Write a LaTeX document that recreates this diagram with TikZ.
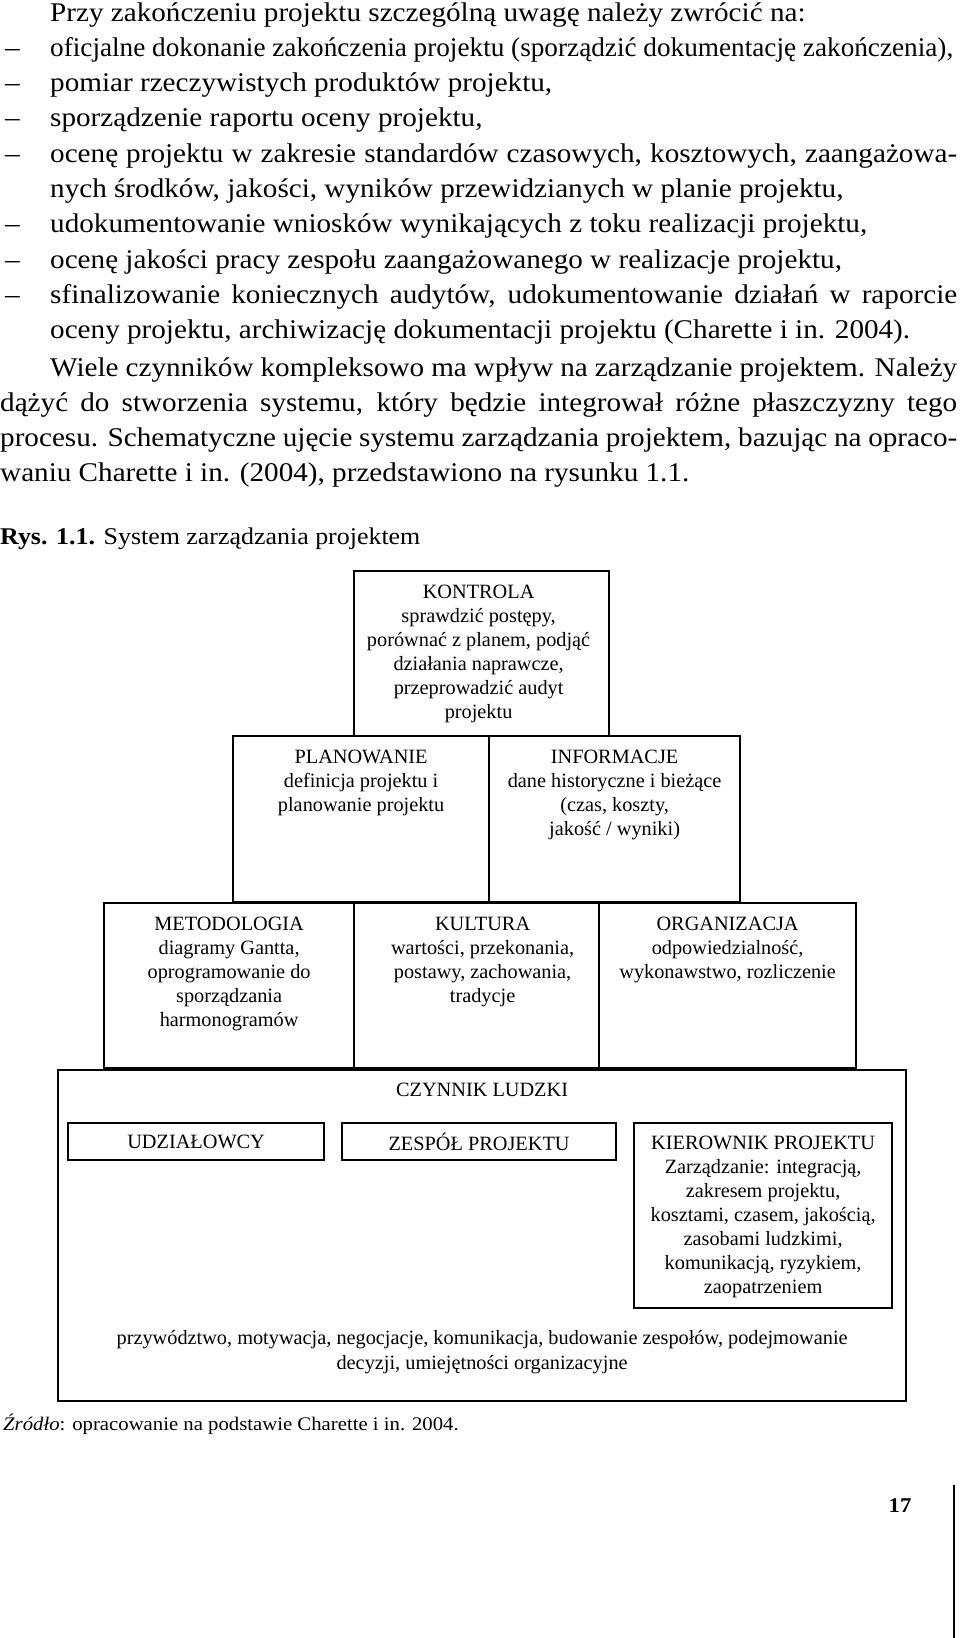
\documentclass[tikz,border=0pt]{standalone}
\usepackage{fontspec}
\setmainfont{Liberation Serif}
\newfontfamily\bookfont{Liberation Serif}[FakeStretch=1.08]
\usetikzlibrary{positioning}

\begin{document}
\begin{tikzpicture}[x=1pt,y=-1pt]
		\tikzstyle{textline} = [inner sep=0pt,anchor=base west,font=\bookfont\fontsize{27}{35}\selectfont]
		\tikzstyle{box} = [draw,line width=2.2pt,inner sep=0pt,anchor=north west]
		\tikzstyle{boxtext} = [inner sep=0pt,align=center,font=\fontsize{20.3}{24}\selectfont]
		
		\useasboundingbox (0,0) rectangle (960,1638);
		
		% Text above the figure
		\node [textline] (intro) at (50,21) {Przy zakończeniu projektu szczególną uwagę należy zwrócić na:};
		\node [textline] (d1) at (5,56.3) {–};
		\node [textline] (item1) at (50,56.3) {\resizebox{903pt}{\height}{oficjalne dokonanie zakończenia projektu (sporządzić dokumentację zakończenia),}};
		\node [textline] (d2) at (5,91.6) {–};
		\node [textline] (item2) at (50,91.6) {pomiar rzeczywistych produktów projektu,};
		\node [textline] (d3) at (5,126.9) {–};
		\node [textline] (item3) at (50,126.9) {sporządzenie raportu oceny projektu,};
		\node [textline] (d4) at (5,162.2) {–};
		\node [textline] (item4) at (50,162.2) {\makebox[907pt][s]{ocenę projektu w zakresie standardów czasowych, kosztowych, zaangażowa-}};
		\node [textline] (item4b) at (50,197.5) {nych środków, jakości, wyników przewidzianych w planie projektu,};
		\node [textline] (d5) at (5,232.8) {–};
		\node [textline] (item5) at (50,232.8) {udokumentowanie wniosków wynikających z toku realizacji projektu,};
		\node [textline] (d6) at (5,268.1) {–};
		\node [textline] (item6) at (50,268.1) {ocenę jakości pracy zespołu zaangażowanego w realizacje projektu,};
		\node [textline] (d7) at (5,303.4) {–};
		\node [textline] (item7) at (50,303.4) {\makebox[907pt][s]{sfinalizowanie koniecznych audytów, udokumentowanie działań w raporcie}};
		\node [textline] (item7b) at (50,338.7) {oceny projektu, archiwizację dokumentacji projektu (Charette i in. 2004).};
		\node [textline] (par1) at (50,376) {\makebox[907pt][s]{Wiele czynników kompleksowo ma wpływ na zarządzanie projektem. Należy}};
		\node [textline] (par2) at (0,411.3) {\makebox[957pt][s]{dążyć do stworzenia systemu, który będzie integrował różne płaszczyzny tego}};
		\node [textline] (par3) at (0,446.6) {\makebox[957pt][s]{procesu. Schematyczne ujęcie systemu zarządzania projektem, bazując na opraco-}};
		\node [textline] (par4) at (0,481.9) {waniu Charette i in. (2004), przedstawiono na rysunku 1.1.};
		
		% Caption
		\node [textline,font=\bookfont\fontsize{24}{28}\selectfont] (caption) at (0,544) {\textbf{Rys. 1.1.} System zarządzania projektem};
		
		% Pyramid of boxes
		\node [box,minimum width=255pt,minimum height=165pt] (kontrola) at (353,570) {};
		\node [box,minimum width=256pt,minimum height=166pt] (planowanie) at (232,735) {};
		\node [box,minimum width=251pt,minimum height=166pt] (informacje) at (488,735) {};
		\node [box,minimum width=250pt,minimum height=165pt] (metodologia) at (103,902) {};
		\node [box,minimum width=245pt,minimum height=165pt] (kultura) at (353,902) {};
		\node [box,minimum width=257pt,minimum height=165pt] (organizacja) at (598,902) {};
		\node [box,minimum width=848pt,minimum height=331pt] (czynnik) at (57,1069) {};
		
		% Texts of the boxes
		\node [boxtext,below=15pt of kontrola.north,xshift=-3pt] (kontrolaText) {KONTROLA\\sprawdzić postępy,\\porównać z planem, podjąć\\działania naprawcze,\\przeprowadzić audyt\\projektu};
		\node [boxtext,below=15pt of planowanie.north] (planowanieText) {PLANOWANIE\\definicja projektu i\\planowanie projektu};
		\node [boxtext,below=15pt of informacje.north] (informacjeText) {INFORMACJE\\dane historyczne i bieżące\\(czas, koszty,\\jakość / wyniki)};
		\node [boxtext,below=14.5pt of metodologia.north] (metodologiaText) {METODOLOGIA\\diagramy Gantta,\\oprogramowanie do\\sporządzania\\harmonogramów};
		\node [boxtext,below=14.5pt of kultura.north,xshift=6pt] (kulturaText) {KULTURA\\wartości, przekonania,\\postawy, zachowania,\\tradycje};
		\node [boxtext,below=14.5pt of organizacja.north] (organizacjaText) {ORGANIZACJA\\odpowiedzialność,\\wykonawstwo, rozliczenie};
		
		% Human factor
		\node [boxtext,below=14pt of czynnik.north] (czynnikText) {CZYNNIK LUDZKI};
		\node [box,boxtext,anchor=north west,minimum width=256pt,minimum height=37pt] (udzialowcy) at (67,1122) {UDZIAŁOWCY};
		\node [box,boxtext,anchor=north west,minimum width=274pt,minimum height=37pt] (zespol) at (341,1122) {ZESPÓŁ PROJEKTU};
		\node [box,minimum width=258pt,minimum height=185pt] (kierownik) at (633,1122) {};
		\node [boxtext,below=13.5pt of kierownik.north] (kierownikText) {KIEROWNIK PROJEKTU\\Zarządzanie: integracją,\\zakresem projektu,\\kosztami, czasem, jakością,\\zasobami ludzkimi,\\komunikacją, ryzykiem,\\zaopatrzeniem};
		\node [boxtext,above=28pt of czynnik.south,font=\fontsize{20.3}{25}\selectfont] (umiejetnosci) {przywództwo, motywacja, negocjacje, komunikacja, budowanie zespołów, podejmowanie\\decyzji, umiejętności organizacyjne};
		
		% Source and page number
		\node [textline,font=\bookfont\fontsize{19.2}{24}\selectfont] (zrodlo) at (3,1430) {\textit{Źródło}: opracowanie na podstawie Charette i in. 2004.};
		\node [inner sep=0pt,anchor=base,font=\bookfont\bfseries\fontsize{21}{24}\selectfont] (pagenum) at (900,1512) {17};
		\coordinate (ruletop) at (954,1485);
		\coordinate (rulebottom) at (954,1638);
		\draw [line width=2pt] (ruletop) -- (rulebottom);
	\end{tikzpicture}
\end{document}
